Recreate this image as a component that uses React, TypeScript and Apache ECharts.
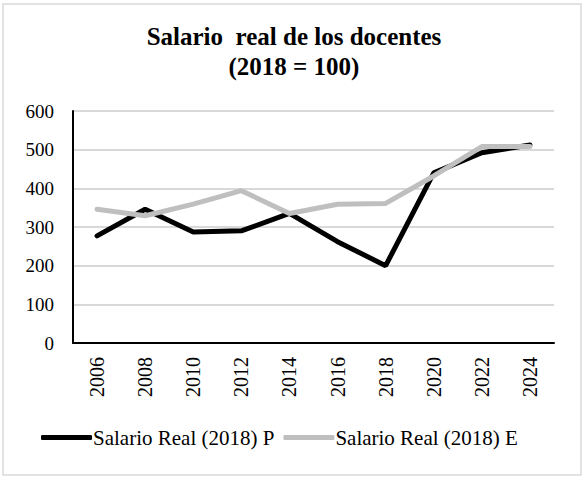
import React, { useEffect, useRef } from "react";
import * as echarts from "echarts";

// Teacher real salary index series (2018 = 100)
const years = ["2006", "2008", "2010", "2012", "2014", "2016", "2018", "2020", "2022", "2024"];
const salarioP = [277, 346, 287, 290, 335, 262, 200, 440, 492, 512];
const salarioE = [346, 329, 359, 394, 335, 359, 361, 432, 508, 508];
const seriesNames = ["Salario Real (2018) P", "Salario Real (2018) E"];
const yTicks = { min: 0, max: 600, interval: 100 };

const SERIF = "Liberation Serif";

export default function App() {
  const ref = useRef<HTMLDivElement>(null);

  useEffect(() => {
    if (!ref.current) return;
    const chart = echarts.init(ref.current, undefined, { renderer: "svg" });
    chart.setOption({
      animation: false,
      backgroundColor: "#ffffff",
      textStyle: { fontFamily: SERIF },
      title: {
        text: "Salario  real de los docentes\n(2018 = 100)",
        left: "center",
        top: 16,
        textStyle: {
          fontFamily: SERIF,
          fontWeight: "bold",
          fontSize: 25,
          lineHeight: 30,
          color: "#000",
        },
      },
      graphic: [
        {
          type: "rect",
          shape: { x: 3, y: 4, width: 578, height: 471 },
          style: { fill: "none", stroke: "#d9d9d9", lineWidth: 1.5 },
          silent: true,
        },
      ],
      legend: {
        bottom: 30,
        left: 36,
        itemWidth: 51,
        itemHeight: 5,
        itemGap: 9,
        icon: "roundRect",
        textStyle: { fontFamily: SERIF, fontSize: 21, color: "#000", padding: [0, 0, 0, -4] },
        data: seriesNames,
      },
      grid: { left: 73, right: 34, top: 111, bottom: 140 },
      xAxis: {
        type: "category",
        data: years,
        boundaryGap: true,
        axisLine: { lineStyle: { color: "#000", width: 2 } },
        axisTick: { show: false },
        axisLabel: {
          rotate: 90,
          fontFamily: SERIF,
          fontSize: 20,
          color: "#000",
          margin: 14,
        },
      },
      yAxis: {
        type: "value",
        min: yTicks.min,
        max: yTicks.max,
        interval: yTicks.interval,
        axisLine: { show: true, lineStyle: { color: "#000", width: 2 } },
        axisTick: { show: false },
        splitLine: { lineStyle: { color: "#d9d9d9", width: 2 } },
        axisLabel: { fontFamily: SERIF, fontSize: 19, color: "#000", margin: 19 },
      },
      series: [
        {
          name: seriesNames[0],
          type: "line",
          data: salarioP,
          symbol: "none",
          lineStyle: { color: "#000000", width: 5, cap: "round" },
          itemStyle: { color: "#000000" },
          z: 2,
        },
        {
          name: seriesNames[1],
          type: "line",
          data: salarioE,
          symbol: "none",
          lineStyle: { color: "#bfbfbf", width: 5, cap: "round" },
          itemStyle: { color: "#bfbfbf" },
          z: 3,
        },
      ],
    });
    return () => chart.dispose();
  }, []);

  return (
    <div
      ref={ref}
      style={{ position: "fixed", left: 0, top: 0, width: 588, height: 483 }}
    />
  );
}
